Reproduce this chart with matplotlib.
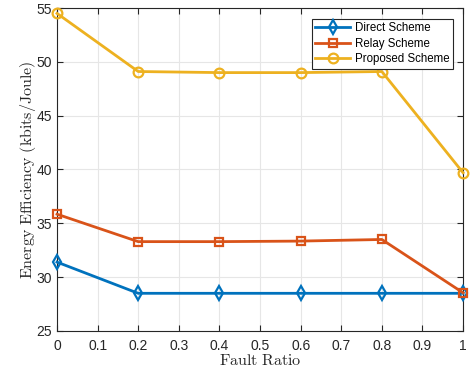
import matplotlib
matplotlib.use("Agg")
import matplotlib.pyplot as plt

fault_ratio = [0, 0.2, 0.4, 0.6, 0.8, 1.0]
direct = [31.4, 28.5, 28.5, 28.5, 28.5, 28.5]
relay = [35.85, 33.3, 33.3, 33.35, 33.5, 28.55]
proposed = [54.5, 49.1, 49.0, 49.0, 49.1, 39.7]

xticks = [0, 0.1, 0.2, 0.3, 0.4, 0.5, 0.6, 0.7, 0.8, 0.9, 1]
xticklabels = ["0", "0.1", "0.2", "0.3", "0.4", "0.5", "0.6", "0.7", "0.8", "0.9", "1"]

plt.rcParams.update({
    "font.family": "Liberation Sans",
    "font.size": 10,
    "mathtext.fontset": "cm",
})

fig = plt.figure(figsize=(4.73, 3.74), dpi=100)
ax = fig.add_axes([0.1205, 0.115, 0.8585, 0.8636])

ax.plot(fault_ratio, direct, color="#0072BD", lw=2, marker="d", ms=7,
        mfc="none", mew=1.6, label="Direct Scheme", clip_on=False, zorder=3)
ax.plot(fault_ratio, relay, color="#D95319", lw=2, marker="s", ms=6,
        mfc="none", mew=1.6, label="Relay Scheme", clip_on=False, zorder=3)
ax.plot(fault_ratio, proposed, color="#EDB120", lw=2, marker="o", ms=7,
        mfc="none", mew=1.6, label="Proposed Scheme", clip_on=False, zorder=3)

ax.set_xlim(0, 1)
ax.set_ylim(25, 55)
ax.set_xticks(xticks)
ax.set_xticklabels(xticklabels)
ax.set_yticks([25, 30, 35, 40, 45, 50, 55])
ax.tick_params(direction="in", length=4, width=0.8, colors="#262626",
               labelsize=10, top=True, right=True)
ax.tick_params(axis="x", pad=6)
ax.grid(True, color="#e6e6e6", linewidth=0.8)
ax.set_axisbelow(True)
for s in ax.spines.values():
    s.set_color("#262626")
    s.set_linewidth(0.8)

ax.set_xlabel(r"$\mathrm{Fault\ Ratio}$", fontsize=11.5, color="#262626", labelpad=0)
ax.set_ylabel(r"$\mathrm{Energy\ Efficiency\ (kbits/Joule)}$", fontsize=11.5,
              color="#262626", labelpad=-1)

leg = ax.legend(loc="upper right", bbox_to_anchor=(0.983, 0.977), fontsize=8.3,
                fancybox=False, edgecolor="#262626", framealpha=1,
                handlelength=3.0, borderpad=0.3, labelspacing=0.3,
                handletextpad=0.4, borderaxespad=0.3)
leg.get_frame().set_linewidth(0.8)

fig.savefig("out.png", dpi=100)
